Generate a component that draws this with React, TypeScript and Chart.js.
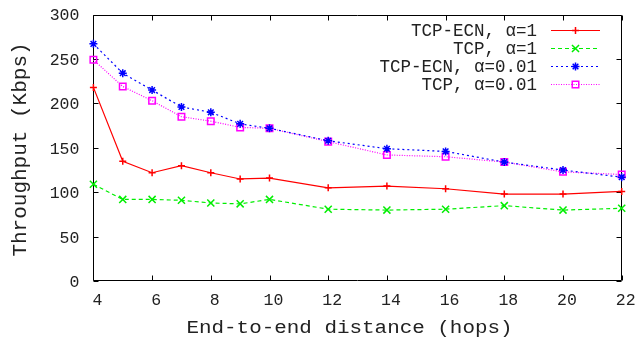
import { useEffect, useRef } from "react";
import { Chart, registerables } from "chart.js";

Chart.register(...registerables);

const hops = [4, 5, 6, 7, 8, 9, 10, 12, 14, 16, 18, 20, 22];
const ecnAlpha1 = [218, 135, 122, 130, 122, 115, 116, 105, 107, 104, 98, 98, 101];
const tcpAlpha1 = [109, 92, 92, 91, 88, 87, 92, 81, 80, 81, 85, 80, 82];
const ecnAlpha001 = [267, 234, 215, 196, 190, 177, 172, 158, 149, 146, 134, 125, 117];
const tcpAlpha001 = [249, 219, 203, 185, 180, 173, 172, 157, 142, 140, 134, 123, 120];
const xTickValues = [4, 6, 8, 10, 12, 14, 16, 18, 20, 22];
const yTickValues = [0, 50, 100, 150, 200, 250, 300];
const seriesLabels = ["TCP-ECN, α=1", "TCP, α=1", "TCP-ECN, α=0.01", "TCP, α=0.01"];
const xTitle = "End-to-end distance (hops)";
const yTitle = "Throughput (Kbps)";

const FONT = "'Liberation Mono', 'DejaVu Sans Mono', monospace";
const TEXT = "#222";

const styles = [
  { color: "#ff0000", dash: [] as number[], point: "cross", r: 3.5 },
  { color: "#00ee00", dash: [4, 3], point: "crossRot", r: 5 },
  { color: "#0000ff", dash: [2, 3], point: "star", r: 4 },
  { color: "#ff00ff", dash: [1, 1.5], point: "rect", r: 4.6 },
];
const legendRows = [30, 48, 66, 84];

function drawMarker(ctx: CanvasRenderingContext2D, kind: string, x: number, y: number, r: number, color: string) {
  ctx.save();
  ctx.strokeStyle = color;
  ctx.lineWidth = 1.5;
  ctx.setLineDash([]);
  ctx.beginPath();
  if (kind === "cross" || kind === "star") {
    ctx.moveTo(x - r, y);
    ctx.lineTo(x + r, y);
    ctx.moveTo(x, y - r);
    ctx.lineTo(x, y + r);
  }
  if (kind === "crossRot" || kind === "star") {
    const d = r * Math.SQRT1_2;
    ctx.moveTo(x - d, y - d);
    ctx.lineTo(x + d, y + d);
    ctx.moveTo(x - d, y + d);
    ctx.lineTo(x + d, y - d);
  }
  if (kind === "rect") {
    const s = r * Math.SQRT1_2;
    ctx.rect(x - s, y - s, 2 * s, 2 * s);
  }
  ctx.stroke();
  ctx.restore();
}

export default function App() {
  const ref = useRef<HTMLCanvasElement | null>(null);

  useEffect(() => {
    document.body.style.margin = "0";
    const canvas = ref.current!;
    const seriesValues = [ecnAlpha1, tcpAlpha1, ecnAlpha001, tcpAlpha001];

    const framePlugin = {
      id: "frame",
      beforeDatasetsDraw(chart: any) {
        const { ctx, chartArea } = chart;
        const xs = chart.scales.x;
        const ys = chart.scales.y;
        const l = Math.round(chartArea.left) + 0.5;
        const r = Math.round(chartArea.right) - 0.5;
        const t = Math.round(chartArea.top) + 0.5;
        const b = Math.round(chartArea.bottom) - 0.5;
        ctx.save();
        ctx.strokeStyle = "#000";
        ctx.lineWidth = 1;
        ctx.beginPath();
        ctx.rect(l, t, r - l, b - t);
        const tl = 5;
        xTickValues.forEach((v) => {
          const px = Math.round(xs.getPixelForValue(v)) + 0.5;
          ctx.moveTo(px, b);
          ctx.lineTo(px, b - tl);
          ctx.moveTo(px, t);
          ctx.lineTo(px, t + tl);
        });
        yTickValues.forEach((v) => {
          const py = Math.round(ys.getPixelForValue(v)) + 0.5;
          ctx.moveTo(l, py);
          ctx.lineTo(l + tl, py);
          ctx.moveTo(r, py);
          ctx.lineTo(r - tl, py);
        });
        ctx.stroke();
        ctx.restore();
      },
      afterDraw(chart: any) {
        const { ctx } = chart;
        ctx.save();
        ctx.fillStyle = TEXT;
        ctx.textAlign = "center";
        ctx.textBaseline = "alphabetic";
        ctx.save();
        ctx.font = `19px ${FONT}`;
        ctx.translate(349.5, 333.3);
        ctx.scale(1.1, 1);
        ctx.fillText(xTitle, 0, 0);
        ctx.restore();
        ctx.save();
        ctx.font = `21px ${FONT}`;
        ctx.translate(26.3, 149.5);
        ctx.rotate(-Math.PI / 2);
        ctx.fillText(yTitle, 0, 0);
        ctx.restore();
        ctx.font = `17.5px ${FONT}`;
        ctx.textAlign = "right";
        ctx.textBaseline = "middle";
        seriesLabels.forEach((lab, i) => {
          const y = legendRows[i];
          ctx.fillStyle = TEXT;
          ctx.fillText(lab, 537, y + 1);
          const st = styles[i];
          ctx.strokeStyle = st.color;
          ctx.lineWidth = 1.2;
          ctx.setLineDash(st.dash);
          ctx.beginPath();
          ctx.moveTo(551, y + 0.5);
          ctx.lineTo(600, y + 0.5);
          ctx.stroke();
          ctx.setLineDash([]);
          drawMarker(ctx, st.point, 575.5, y + 0.5, st.r, st.color);
        });
        ctx.restore();
      },
    };

    const chart = new Chart(canvas, {
      type: "line",
      data: {
        datasets: seriesValues.map((vals, i) => ({
          label: seriesLabels[i],
          data: hops.map((h, j) => ({ x: h, y: vals[j] })),
          borderColor: styles[i].color,
          backgroundColor: "rgba(0,0,0,0)",
          borderWidth: 1.2,
          borderDash: styles[i].dash,
          pointStyle: styles[i].point as any,
          pointRadius: styles[i].r,
          pointBorderWidth: 1.5,
          pointBorderColor: styles[i].color,
          pointBackgroundColor: "rgba(0,0,0,0)",
          tension: 0,
          clip: false as any,
        })),
      },
      options: {
        responsive: false,
        animation: false,
        events: [],
        layout: { padding: { top: 14.5, right: 17.3, left: 0, bottom: 0 } },
        plugins: { legend: { display: false }, tooltip: { enabled: false } },
        scales: {
          x: {
            type: "linear",
            min: 4,
            max: 22,
            grid: { display: false, drawTicks: false },
            border: { display: false },
            afterFit: (s: any) => {
              s.height = 55.8;
              s.paddingLeft = 0;
              s.paddingRight = 0;
              s.paddingTop = 0;
              s.paddingBottom = 0;
            },
            afterBuildTicks: (s: any) => {
              s.ticks = xTickValues.map((v) => ({ value: v }));
            },
            ticks: {
              padding: 10,
              labelOffset: 4,
              color: TEXT,
              font: { family: FONT, size: 16.5 },
              maxRotation: 0,
              autoSkip: false,
            },
          },
          y: {
            type: "linear",
            min: 0,
            max: 300,
            grid: { display: false, drawTicks: false },
            border: { display: false },
            afterFit: (s: any) => {
              s.width = 93.4;
              s.paddingLeft = 0;
              s.paddingRight = 0;
              s.paddingTop = 0;
              s.paddingBottom = 0;
            },
            afterBuildTicks: (s: any) => {
              s.ticks = yTickValues.map((v) => ({ value: v }));
            },
            ticks: {
              padding: 14,
              labelOffset: 1.5,
              color: TEXT,
              font: { family: FONT, size: 16.5 },
            },
          },
        },
      },
      plugins: [framePlugin],
    });

    return () => chart.destroy();
  }, []);

  return (
    <canvas
      ref={ref}
      width={639}
      height={337}
      style={{ display: "block", position: "absolute", left: 0, top: 0, width: 639, height: 337 }}
    />
  );
}
